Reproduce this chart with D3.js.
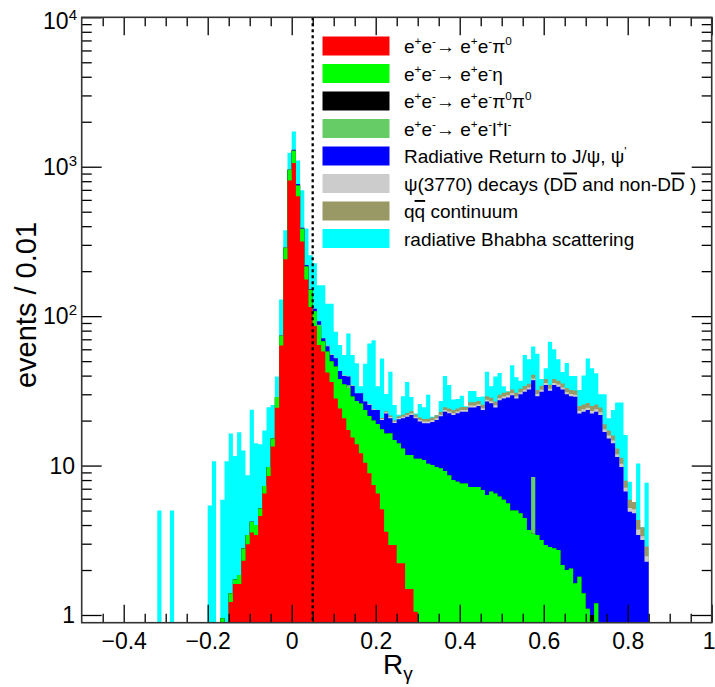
<!DOCTYPE html>
<html><head><meta charset="utf-8">
<script src="https://cdn.jsdelivr.net/npm/d3@7/dist/d3.min.js"></script>
<style>
body{margin:0;background:#fff}
text{font-family:"Liberation Sans",Arial,Helvetica,sans-serif;fill:#000}
</style>
</head><body>
<svg id="chart" width="715" height="687"></svg>
<script>
// ---------------- data (events per 0.01 bin, bins given by lower edge) ----------------
const binWidth = 0.01;
const xDomain = [-0.5, 1.0];
const yDomain = [0.888, 10000];

const pi0Start = -0.15;
const pi0 = [1.22,1.61,1.61,2.31,2.97,3.57,3.43,4.6,6.5,8.5,13.4,24.4,63.5,240,810,
  1060,635,316,176,115,86,64,58,42,36.3,
  28.1,24.1,20.7,17.3,15.4,13.9,12.1,10.45,8.9,7.4,
  6.5,5.1,3.6,2.94,2.94,2.22,2.22,1.49,1.49,1.05];

const etaStart = -0.17;
const eta = [0.95,0,0.18,0.12,0.24,0.48,0.46,0.64,0.57,0.57,0.8,1.3,1.8,4.4,10.5,47,145,
  220,115,69,39,35,22,22,10,16,13.7,
  17.9,13.9,14.3,15.7,13.6,13.1,13.9,13.05,12.6,12.6,
  12.5,12.4,12.8,13.5,11.9,11.9,10.8,10.3,10.3,10.05,
  11.1,10.9,10.3,10.1,9.8,9.6,9.2,8.6,8.0,7.8,
  7.6,7.6,7.2,7.2,7.2,6.85,6.35,6.7,6.5,6.2,
  5.9,5.6,5.0,5.0,4.8,4.45,3.7,3.5,3.43,3.17,
  2.94,2.85,2.8,2.72,2.16,2.0,2.05,1.63,1.8,1.4,
  1.1,0.9,1.2];

const pi0pi0Bins = [0.71];
const pi0pi0 = [0.1];

const llBins = [0.06, 0.13, 0.57];
const ll = [1.5, 1.5, 4.9];

const radRetStart = 0.0;
const radRet = [20,15,5,5,2,4,5.1,3,5,5,
  6.3,5,4.7,4.9,5.1,3.5,4.5,3.3,3.9,3.5,
  4.5,2.7,5.9,4.3,4.4,6.3,7.7,9.4,10,9.6,
  8.6,8.3,8.9,9.5,10.4,11.8,13.7,13.8,13.8,14.6,
  15.3,15.3,17.3,17.3,17.8,16.65,20.45,19.4,18.0,21.2,
  22.2,23.0,24.6,23.1,25.2,26.75,28.6,28.8,25.7,28,
  31.7,28.85,31.8,31.0,30.1,28,27.05,27.2,20.5,21.5,
  22.4,21.3,21.7,21.8,16.8,15.2,14.1,11.4,9.8,6.7,
  4.9,4.8,3.43,3.17,2.27];

const psiStart = 0.08;
const psi3770 = [0.3,0.3,0,0,0.3,0,0.3,0,0,0,
  0.3,0.3,0,0.3,0.4,0.4,0.4,0.4,0.5,0.5,
  0.5,0.5,0.5,0.5,0.5,0.5,0.5,0.5,0.6,0.6,
  0.6,0.6,0.6,0.6,0.7,0.7,0.7,0.7,0.8,0.8,
  0.8,0.8,0.9,0.9,0.9,0.9,0.9,1.0,1.0,1.1,
  1.0,1.0,1.1,1.0,1.1,1.1,1.1,1.0,1.0,1.0,
  0.9,0.9,0.9,0.9,0.9,0.9,0.7,0.7,0.6,0.5,
  0.5,0.4,0.3,0.3,0.3,0.2,0.2];

const qqStart = 0.10;
const qq = [0.3,0,0,0,0,0,0,0,0,0,
  0,0.3,0.4,0.5,0.5,0.6,0.7,0.8,0.8,0.8,
  0.8,0.8,0.9,0.9,1.0,1.0,1.1,1.1,1.1,1.1,
  1.2,1.2,1.3,1.3,1.3,1.3,1.5,1.5,1.5,1.6,
  1.7,1.7,1.8,1.7,1.8,1.9,2.0,2.3,1.9,2.0,
  2.2,2.0,2.2,2.1,2.1,2.0,2.0,2.0,1.8,1.8,
  1.8,1.8,1.8,1.8,1.4,1.3,1.2,1.1,1.0,0.8,
  0.7,0.6,0.6,0.5,0.4];

const bhabhaStart = -0.32;
const bhabha = [5,0,0,5,0,0,0,0,0,0,
  0,0,5.4,10.7,0,4.95,10.7,15.0,9.87,14.85,
  9.8,5.2,19.4,10.1,8.7,9.9,14.8,10.2,10.6,55,
  89,285,420,335,307,166,104,114,68.4,90,
  57.7,65.7,25.9,21,15,37,20.6,17.8,3.5,21.2,
  39.9,45.2,10.5,31.2,7.0,20.8,5.3,0.5,7.2,13.8,
  5.7,0.3,4.8,4.1,9.2,0.2,0.1,4.1,15.1,10.5,
  4.2,3.8,4.6,0.2,5.1,5.1,1.8,3.5,13.3,5.6,
  12.6,11.9,3.3,0.2,14.7,8.3,4.3,20.9,16.2,22,
  24,3.8,6.9,32.7,22.1,14.6,6.9,15.6,7.6,7.9,
  7.0,14.4,25.8,19.8,15.9,5.5,11.1,3.5,7.6,13.4,
  15.1,8.1,1.9,0,6.0,0,4.8];

const seriesKeys = ["pi0","eta","pi0pi0","ll","radRet","psi3770","qq","bhabha"];
const seriesColors = ["#ff0000","#00ff00","#000000","#66cc66","#0000ff","#cccccc","#999966","#00ffff"];
const legendLabels = [
  [["e"],["+","sup"],["e"],["-","sup"],["\u2192 e"],["+","sup"],["e"],["-","sup"],["\u03c0"],["0","sup"]],
  [["e"],["+","sup"],["e"],["-","sup"],["\u2192 e"],["+","sup"],["e"],["-","sup"],["\u03b7"]],
  [["e"],["+","sup"],["e"],["-","sup"],["\u2192 e"],["+","sup"],["e"],["-","sup"],["\u03c0"],["0","sup"],["\u03c0"],["0","sup"]],
  [["e"],["+","sup"],["e"],["-","sup"],["\u2192 e"],["+","sup"],["e"],["-","sup"],["l"],["+","sup"],["l"],["-","sup"]],
  [["Radiative Return to J/\u03c8, \u03c8"],["'","sup"]],
  [["\u03c8(3770) decays ("],["D"],["D","over"],[" and non-"],["D"],["D","over"],[" )"]],
  [["q"],["q","over"],[" continuum"]],
  [["radiative Bhabha scattering"]]
];
const xMajorTicks = [-0.4,-0.2,0,0.2,0.4,0.6,0.8,1.0];
const yMajorTicks = [1,10,100,1000,10000];
const yTickExponents = [null,null,2,3,4];

// ---------------- build table ----------------
const nBins = Math.round((xDomain[1]-xDomain[0])/binWidth);
const rows = d3.range(nBins).map(i => {
  const r = {x0: xDomain[0] + i*binWidth};
  seriesKeys.forEach(k => r[k] = 0);
  return r;
});
const idx = v => Math.round((v - xDomain[0]) / binWidth);
function fill(key, start, vals){ vals.forEach((v,k)=>{ rows[idx(start)+k][key] = v; }); }
function fillSparse(key, bins, vals){ bins.forEach((b,k)=>{ rows[idx(b)][key] = vals[k]; }); }
fill("pi0", pi0Start, pi0);
fill("eta", etaStart, eta);
fillSparse("pi0pi0", pi0pi0Bins, pi0pi0);
fillSparse("ll", llBins, ll);
fill("radRet", radRetStart, radRet);
fill("psi3770", psiStart, psi3770);
fill("qq", qqStart, qq);
fill("bhabha", bhabhaStart, bhabha);

const stacked = d3.stack().keys(seriesKeys)(rows);

// ---------------- scales ----------------
const L = 81.7, R = 711.7, T = 17.3, B = 622.7;
const x = d3.scaleLinear().domain(xDomain).range([L, R]);
const y = d3.scaleLog().domain(yDomain).range([B, T]);

const svg = d3.select("#chart");
svg.append("rect").attr("width",715).attr("height",687).attr("fill","#fff");

svg.append("defs").append("clipPath").attr("id","clip")
  .append("rect").attr("x",L).attr("y",T).attr("width",R-L).attr("height",B-T);

const plot = svg.append("g").attr("clip-path","url(#clip)");

// histogram step areas: cumulative tops, largest first (THStack style)
const area = d3.area()
  .curve(d3.curveStepAfter)
  .x(d => x(d.x))
  .y0(B)
  .y1(d => d.v > yDomain[0] ? y(d.v) : B);

for (let k = stacked.length - 1; k >= 0; k--) {
  const layer = stacked[k];
  const pts = layer.map((s,i) => ({x: rows[i].x0, v: s[1]}));
  pts.push({x: xDomain[1], v: 0});
  plot.append("path").attr("d", area(pts)).attr("fill", seriesColors[k]).attr("stroke","none");
}

// dotted cut line at R = 0.05
const cutValue = [0.05];
svg.selectAll(".cut").data(cutValue).enter().append("line")
  .attr("x1", d=>x(d)).attr("x2", d=>x(d)).attr("y1", T).attr("y2", B)
  .attr("stroke","#000").attr("stroke-width",2.3).attr("stroke-dasharray","3,3");

// ---------------- axes ----------------
const xMinor = d3.range(-0.45, 1.0, 0.05).filter(v => !xMajorTicks.some(m => Math.abs(m-v) < 1e-6));
const yMinor = [];
[1,10,100,1000].forEach(dec => { for (let m=2;m<=9;m++) yMinor.push(dec*m); });

function styleAxis(g){ g.select(".domain").remove(); g.selectAll("line").attr("stroke","#000").attr("stroke-width",1.3); }

// bottom
const gxb = svg.append("g").attr("transform",`translate(0,${B})`)
  .call(d3.axisBottom(x).tickValues(xMajorTicks).tickSize(-18).tickPadding(10).tickFormat(d3.format("~g")));
styleAxis(gxb);
gxb.selectAll("text").attr("font-size",23).attr("font-family","Liberation Sans, Arial, sans-serif").attr("fill","#000")
  .attr("dx", d => d === 1 ? -3 : 0);
const gxbm = svg.append("g").attr("transform",`translate(0,${B})`)
  .call(d3.axisBottom(x).tickValues(xMinor).tickSize(-9).tickFormat(""));
styleAxis(gxbm);
// top
const gxt = svg.append("g").attr("transform",`translate(0,${T})`)
  .call(d3.axisTop(x).tickValues(xMajorTicks).tickSize(-18).tickFormat(""));
styleAxis(gxt);
const gxtm = svg.append("g").attr("transform",`translate(0,${T})`)
  .call(d3.axisTop(x).tickValues(xMinor).tickSize(-9).tickFormat(""));
styleAxis(gxtm);
// left
const gyl = svg.append("g").attr("transform",`translate(${L},0)`)
  .call(d3.axisLeft(y).tickValues(yMajorTicks).tickSize(-20).tickFormat(""));
styleAxis(gyl);
const gylm = svg.append("g").attr("transform",`translate(${L},0)`)
  .call(d3.axisLeft(y).tickValues(yMinor).tickSize(-10).tickFormat(""));
styleAxis(gylm);
// right
const gyr = svg.append("g").attr("transform",`translate(${R},0)`)
  .call(d3.axisRight(y).tickValues(yMajorTicks).tickSize(-20).tickFormat(""));
styleAxis(gyr);
const gyrm = svg.append("g").attr("transform",`translate(${R},0)`)
  .call(d3.axisRight(y).tickValues(yMinor).tickSize(-10).tickFormat(""));
styleAxis(gyrm);

// frame
svg.append("rect").attr("x",L).attr("y",T).attr("width",R-L).attr("height",B-T)
  .attr("fill","none").attr("stroke","#333").attr("stroke-width",1.6);

// y tick labels with exponents
yMajorTicks.forEach((v,i) => {
  const e = yTickExponents[i];
  const t = svg.append("text").attr("text-anchor","end").attr("font-size",23)
    .attr("x", e === null ? 75 : 77).attr("y", y(v) + 8 + (v===10000?4:0));
  t.append("tspan").text(e === null ? String(v) : "10");
  if (e !== null) t.append("tspan").text(String(e)).attr("font-size",15).attr("dy",-9);
});

// axis titles
svg.append("text").attr("transform","translate(36,305) rotate(-90)")
  .attr("text-anchor","middle").attr("font-size",29).text("events / 0.01");
const xt = svg.append("text").attr("x",383).attr("y",674).attr("font-size",28);
xt.append("tspan").text("R");
xt.append("tspan").text("\u03b3").attr("font-size",19).attr("dy",6);

// ---------------- legend ----------------
function addRich(textSel, segs, fs){
  let shift = 0;
  segs.forEach(([t, kind]) => {
    const target = kind === "sup" ? -0.42*fs : (kind === "sub" ? 0.3*fs : 0);
    const ts = textSel.append("tspan").text(t).attr("dy", target - shift);
    shift = target;
    if (kind === "sup" || kind === "sub") ts.attr("font-size", fs*0.62);
    if (kind === "over") ts.style("text-decoration","overline");
  });
}
const legTop = 36, legStep = 27.5, legFs = 19;
const leg = svg.append("g");
seriesKeys.forEach((k,i) => {
  const cy = legTop + i*legStep;
  leg.append("rect").attr("x",322).attr("y",cy).attr("width",68).attr("height",20)
    .attr("fill",seriesColors[i]).attr("stroke","#fff").attr("stroke-width",1);
  const t = leg.append("text").attr("x",404).attr("y",cy+17).attr("font-size",legFs);
  addRich(t, legendLabels[i], legFs);
});
</script>
</body></html>
